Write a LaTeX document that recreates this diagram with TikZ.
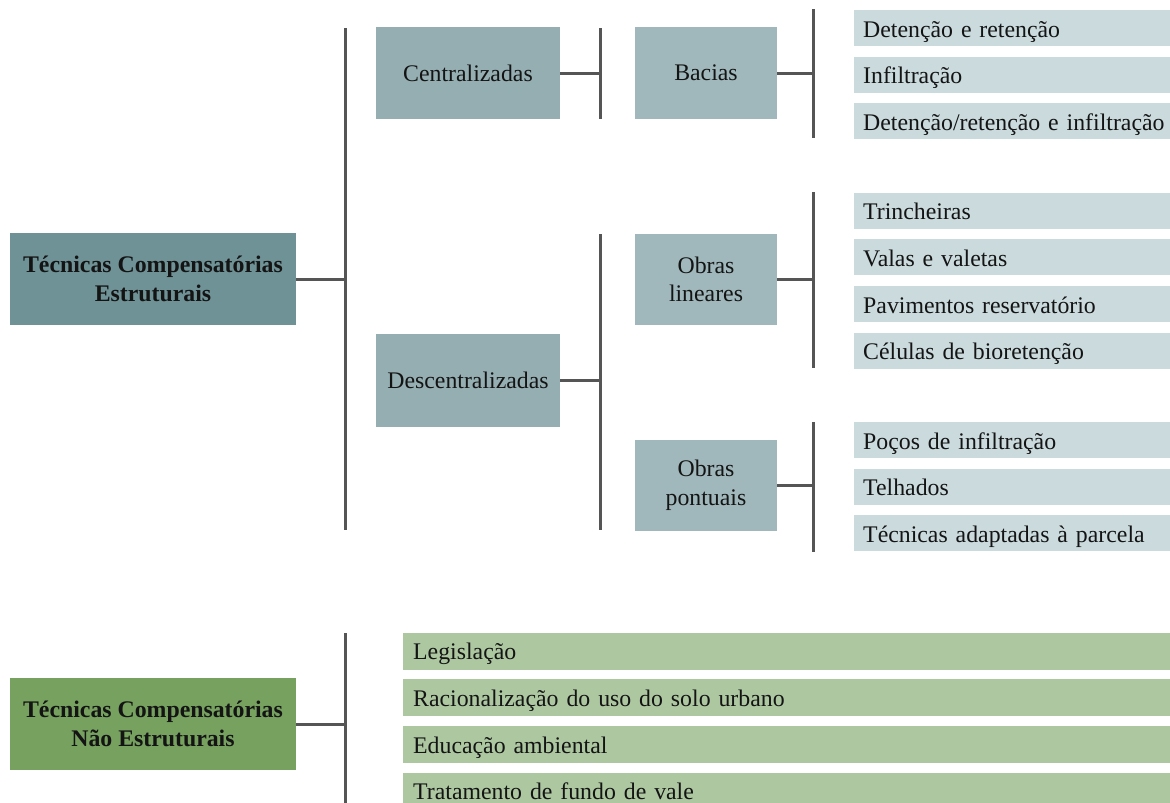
\documentclass[tikz,border=0pt]{standalone}
\usepackage{fontspec}
\setmainfont{Liberation Serif}
\begin{document}
\begin{tikzpicture}[x=1pt,y=-1pt,
  font=\fontsize{23.8}{28.5}\selectfont,
  every node/.style={text=black!92},
  rootbox/.style={rectangle,minimum width=286,minimum height=92,align=center,font=\fontsize{23.8}{28.5}\selectfont\bfseries},
  midbox/.style={rectangle,fill=midcol,minimum width=184,minimum height=92,align=center},
  subbox/.style={rectangle,fill=subcol,minimum width=142,minimum height=91,align=center},
  leafbox/.style={rectangle,fill=leafcol,anchor=west,minimum height=36,text width=330,align=left,inner xsep=9,inner ysep=0,text height=18,text depth=0},
  greenbox/.style={rectangle,fill=greencol,anchor=west,minimum height=37,text width=790,align=left,inner xsep=10,inner ysep=0,text height=17,text depth=0},
  bar/.style={draw=linecol,line width=3pt},
  link/.style={draw=linecol,line width=3pt}]
\definecolor{rootcol}{HTML}{6F9296}
\definecolor{midcol}{HTML}{95AEB2}
\definecolor{subcol}{HTML}{A0B8BB}
\definecolor{leafcol}{HTML}{CADADD}
\definecolor{greencolroot}{HTML}{76A15F}
\definecolor{greencol}{HTML}{ADC8A1}
\definecolor{linecol}{HTML}{555555}
\useasboundingbox (0,0) rectangle (1170,803);
\clip (0,0) rectangle (1170,803);

% structural techniques
\node[rootbox,fill=rootcol] (est) at (153,279) {Técnicas Compensatórias\\Estruturais};
\node[midbox] (cent) at (468,73) {Centralizadas};
\node[midbox,minimum height=93] (desc) at (468,380.5) {Descentralizadas};
\node[subbox,minimum height=92] (bac) at (706,73) {Bacias};
\node[subbox] (lin) at (706,279.5) {Obras\\lineares};
\node[subbox] (pon) at (706,485.5) {Obras\\pontuais};

\node[leafbox] (b1) at (854,28) {Detenção e retenção};
\node[leafbox] (b2) at (854,74.5) {Infiltração};
\node[leafbox] (b3) at (854,121) {Detenção/retenção e infiltração};

\node[leafbox] (l1) at (854,210.5) {Trincheiras};
\node[leafbox] (l2) at (854,257) {Valas e valetas};
\node[leafbox] (l3) at (854,304) {Pavimentos reservatório};
\node[leafbox] (l4) at (854,350.5) {Células de bioretenção};

\node[leafbox] (p1) at (854,440) {Poços de infiltração};
\node[leafbox] (p2) at (854,486.5) {Telhados};
\node[leafbox] (p3) at (854,533) {Técnicas adaptadas à parcela};

% non-structural techniques
\node[rootbox,fill=greencolroot] (nest) at (153,724) {Técnicas Compensatórias\\Não Estruturais};
\node[greenbox] (g1) at (403,651) {Legislação};
\node[greenbox] (g2) at (403,697.5) {Racionalização do uso do solo urbano};
\node[greenbox] (g3) at (403,744.5) {Educação ambiental};
\node[greenbox] (g4) at (403,791) {Tratamento de fundo de vale};

% bracket bars
\coordinate (e0t) at (345,28);  \coordinate (e0b) at (345,530);
\coordinate (c0t) at (600,28);  \coordinate (c0b) at (600,119);
\coordinate (a0t) at (813,9);   \coordinate (a0b) at (813,138);
\coordinate (d0t) at (600,234); \coordinate (d0b) at (600,530);
\coordinate (l0t) at (813,192); \coordinate (l0b) at (813,368);
\coordinate (p0t) at (813,422); \coordinate (p0b) at (813,552);
\coordinate (n0t) at (345,633); \coordinate (n0b) at (345,806);

\draw[bar] (e0t) -- (e0b);
\draw[bar] (c0t) -- (c0b);
\draw[bar] (a0t) -- (a0b);
\draw[bar] (d0t) -- (d0b);
\draw[bar] (l0t) -- (l0b);
\draw[bar] (p0t) -- (p0b);
\draw[bar] (n0t) -- (n0b);

% links from each parent to its bar
\draw[link] (est.east) -- (est.east -| e0t);
\draw[link] (cent.east) -- (cent.east -| c0t);
\draw[link] (bac.east) -- (bac.east -| a0t);
\draw[link] (desc.east) -- (desc.east -| d0t);
\draw[link] (lin.east) -- (lin.east -| l0t);
\draw[link] (pon.east) -- (pon.east -| p0t);
\draw[link] (nest.east) -- (nest.east -| n0t);
\end{tikzpicture}
\end{document}
